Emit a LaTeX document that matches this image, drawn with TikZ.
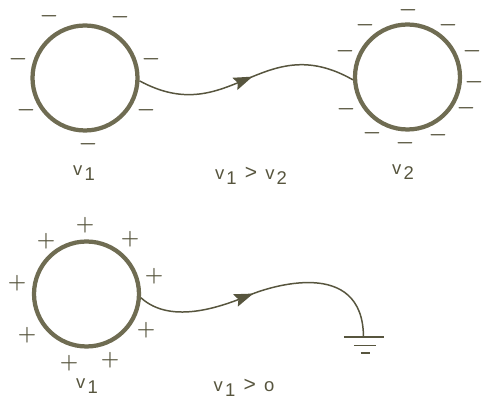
\documentclass[tikz,border=0pt]{standalone}
\usepackage{fontspec}
\setmainfont{Liberation Sans}
\usepackage{tikz}
\usetikzlibrary{arrows.meta, decorations.markings}
\definecolor{inkdark}{HTML}{57553E}
\definecolor{inkball}{HTML}{6F6C52}
\newcommand{\volt}[1]{v\kern1.2pt\raisebox{-0.45ex}{#1}}

\begin{document}
\begin{tikzpicture}[
  x=0.02cm, y=-0.02cm,
  ball/.style={draw=inkball, circle, line width=0.085cm, minimum size=2.1cm, inner sep=0pt},
  charge/.style={inner sep=0pt, text=inkdark, font=\fontsize{12}{14}\selectfont\boldmath},
  lbl/.style={inner sep=0pt, text=inkdark, font=\fontsize{10.5}{12}\selectfont},
  wire/.style={draw=inkdark, line width=0.85pt},
  arrow/.style={wire, postaction={decorate}, decoration={markings, mark=at position #1 with
    {\arrow{Stealth[length=0.38cm, width=0.26cm, inset=0.06cm, color=inkdark]}}}}
]
  \useasboundingbox (0,0) rectangle (485,398);

  \node[ball] (ballA) at (85,78) {};
  \node[ball] (ballB) at (407.5,77) {};
  \node[ball] (ballC) at (86.5,294) {};

  % charges on the first ball
  \node[charge] (a1) at (49,16) {$-$};
  \node[charge] (a2) at (120,17) {$-$};
  \node[charge] (a3) at (18,59) {$-$};
  \node[charge] (a4) at (151,59) {$-$};
  \node[charge] (a5) at (26,110) {$-$};
  \node[charge] (a6) at (146,110) {$-$};
  \node[charge] (a7) at (88,144) {$-$};

  % charges on the second ball
  \node[charge] (b1) at (408,10.5) {$-$};
  \node[charge] (b2) at (365,25) {$-$};
  \node[charge] (b3) at (448,25) {$-$};
  \node[charge] (b4) at (345,51) {$-$};
  \node[charge] (b5) at (472,51) {$-$};
  \node[charge] (b6) at (474,82) {$-$};
  \node[charge] (b7) at (346,109) {$-$};
  \node[charge] (b8) at (466,108) {$-$};
  \node[charge] (b9) at (372,133) {$-$};
  \node[charge] (b10) at (438,135) {$-$};
  \node[charge] (b11) at (405,143) {$-$};

  % charges on the third ball
  \node[charge] (c1) at (85,225) {$+$};
  \node[charge] (c2) at (46,241) {$+$};
  \node[charge] (c3) at (130,239) {$+$};
  \node[charge] (c4) at (154,276) {$+$};
  \node[charge] (c5) at (17,283) {$+$};
  \node[charge] (c6) at (27,335) {$+$};
  \node[charge] (c7) at (146,330) {$+$};
  \node[charge] (c8) at (69,363) {$+$};
  \node[charge] (c9) at (110,360) {$+$};

  \node[lbl] (vA) at (84,173) {\volt{1}};
  \node[lbl] (vAB) at (251,176) {\volt{1} \,{\large >}\, \volt{2}};
  \node[lbl] (vB) at (403,172) {\volt{2}};
  \node[lbl] (vC) at (87,386) {\volt{1}};
  \node[lbl] (vC0) at (244,388) {\volt{1} \,{\large >}\, o};

  \coordinate (tipC) at (251,294.5);
  \coordinate (gnd) at (363.5,337);

  \draw[arrow=0.53] (ballA.-3) .. controls (230,130) and (262,28) .. (ballB.183);
  \draw[arrow=0.45] (ballC.-4) .. controls (172,326) and (225,305.4) .. (tipC)
    .. controls (268,287.4) and (363,256) .. (gnd);

  \draw[wire] (344,337) -- (384,337);
  \draw[wire] (354,345.5) -- (376,345.5);
  \draw[wire] (361,353) -- (370,353);
\end{tikzpicture}
\end{document}
